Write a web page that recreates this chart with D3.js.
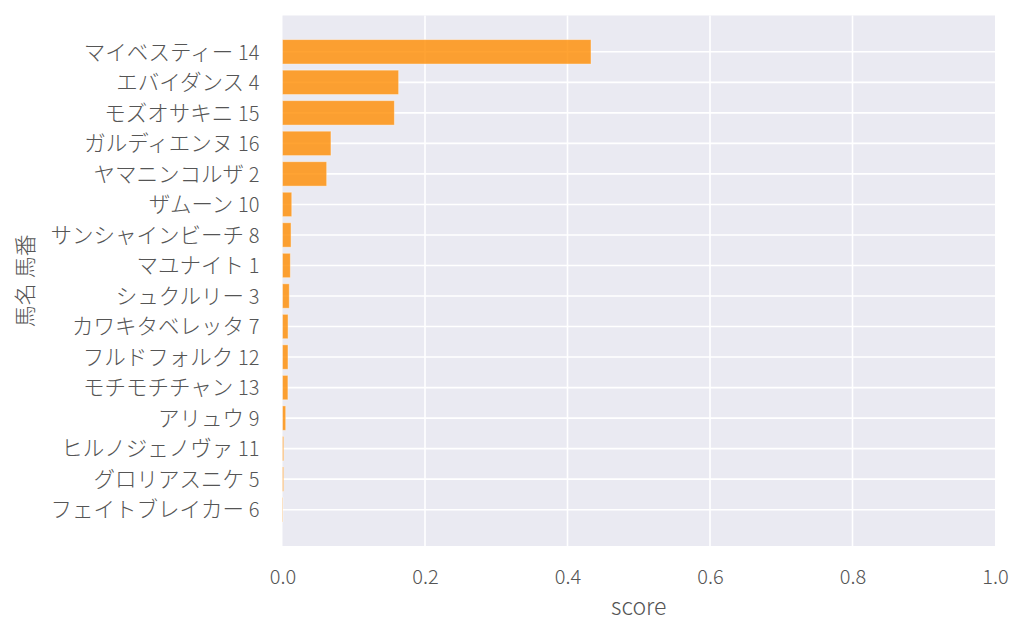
<!DOCTYPE html>
<html>
<head>
<meta charset="utf-8">
<script src="https://cdn.jsdelivr.net/npm/d3@7"></script>
<style>
  body { margin: 0; background: #fff; }
  text { font-family: "Noto Sans CJK JP", "Noto Sans", sans-serif; font-weight: 200; fill: #555; }
</style>
</head>
<body>
<svg width="1024" height="638"></svg>
<script>
// horse names and numbers, top to bottom
var names = ["マイベスティー", "エバイダンス", "モズオサキニ", "ガルディエンヌ", "ヤマニンコルザ",
             "ザムーン", "サンシャインビーチ", "マユナイト", "シュクルリー", "カワキタベレッタ",
             "フルドフォルク", "モチモチチャン", "アリュウ", "ヒルノジェノヴァ", "グロリアスニケ",
             "フェイトブレイカー"];
var numbers = [14, 4, 15, 16, 2, 10, 8, 1, 3, 7, 12, 13, 9, 11, 5, 6];
var scores = [0.433, 0.163, 0.157, 0.068, 0.062, 0.013, 0.012, 0.011, 0.0095, 0.0078,
              0.0077, 0.0076, 0.0045, 0.0017, 0.0016, 0.0007];
var xTicks = [0, 0.2, 0.4, 0.6, 0.8, 1.0];

var svg = d3.select("svg"),
    plotL = 282.5,
    plotR = 995,
    plotT = 15.5,
    plotB = 546;

var data = names.map(function(n, i) {
  return {name: n, num: numbers[i], score: scores[i], key: n + " " + numbers[i]};
});

var x = d3.scaleLinear().domain([0, 1]).range([plotL, plotR]);
var y = d3.scaleBand()
    .domain(data.map(function(d) { return d.key; }))
    .range([plotT, plotB])
    .paddingInner(0.2)
    .paddingOuter(0.79);

// background
svg.append("rect")
    .attr("x", plotL).attr("y", plotT)
    .attr("width", plotR - plotL).attr("height", plotB - plotT)
    .attr("fill", "#eaeaf2");

// grid
var grid = svg.append("g").attr("stroke", "#fff").attr("stroke-width", 1.6);
grid.selectAll("line.v").data(xTicks.slice(1, -1)).enter().append("line")
    .attr("x1", function(d) { return x(d); }).attr("x2", function(d) { return x(d); })
    .attr("y1", plotT).attr("y2", plotB);
grid.selectAll("line.h").data(data).enter().append("line")
    .attr("x1", plotL).attr("x2", plotR)
    .attr("y1", function(d) { return y(d.key) + y.bandwidth() / 2; })
    .attr("y2", function(d) { return y(d.key) + y.bandwidth() / 2; });

// bars
svg.append("g").selectAll("rect").data(data).enter().append("rect")
    .attr("x", x(0))
    .attr("y", function(d) { return y(d.key); })
    .attr("width", function(d) { return x(d.score) - x(0); })
    .attr("height", y.bandwidth())
    .attr("fill", "#ff8c00").attr("fill-opacity", 0.8)
    .attr("stroke", "#fff").attr("stroke-opacity", 0.45).attr("stroke-width", 0.9);

// y tick labels
var yl = svg.append("g").selectAll("text").data(data).enter().append("text")
    .attr("x", plotL - 23)
    .attr("y", function(d) { return y(d.key) + y.bandwidth() / 2; })
    .attr("dy", "0.36em")
    .attr("text-anchor", "end")
    .style("font-size", "21.5px");
yl.append("tspan").text(function(d) { return d.name + " "; });
yl.append("tspan").style("font-size", "20px").text(function(d) { return d.num; });

// x axis
var xAxis = d3.axisBottom(x).tickValues(xTicks).tickFormat(d3.format(".1f")).tickSize(0).tickPadding(0);
var gx = svg.append("g").attr("transform", "translate(0," + plotB + ")").call(xAxis);
gx.select(".domain").remove();
gx.attr("font-family", null).attr("font-size", null);
gx.selectAll("text").attr("dy", null).attr("y", 38)
    .style("font-size", "20px").style("fill", "#555");

svg.append("text")
    .attr("x", (plotL + plotR) / 2).attr("y", 615)
    .attr("text-anchor", "middle")
    .style("font-size", "23px")
    .text("score");

svg.append("text")
    .attr("transform", "translate(33," + (plotT + plotB) / 2 + ") rotate(-90)")
    .attr("text-anchor", "middle")
    .style("font-size", "22px")
    .text("馬名 馬番");
</script>
</body>
</html>
